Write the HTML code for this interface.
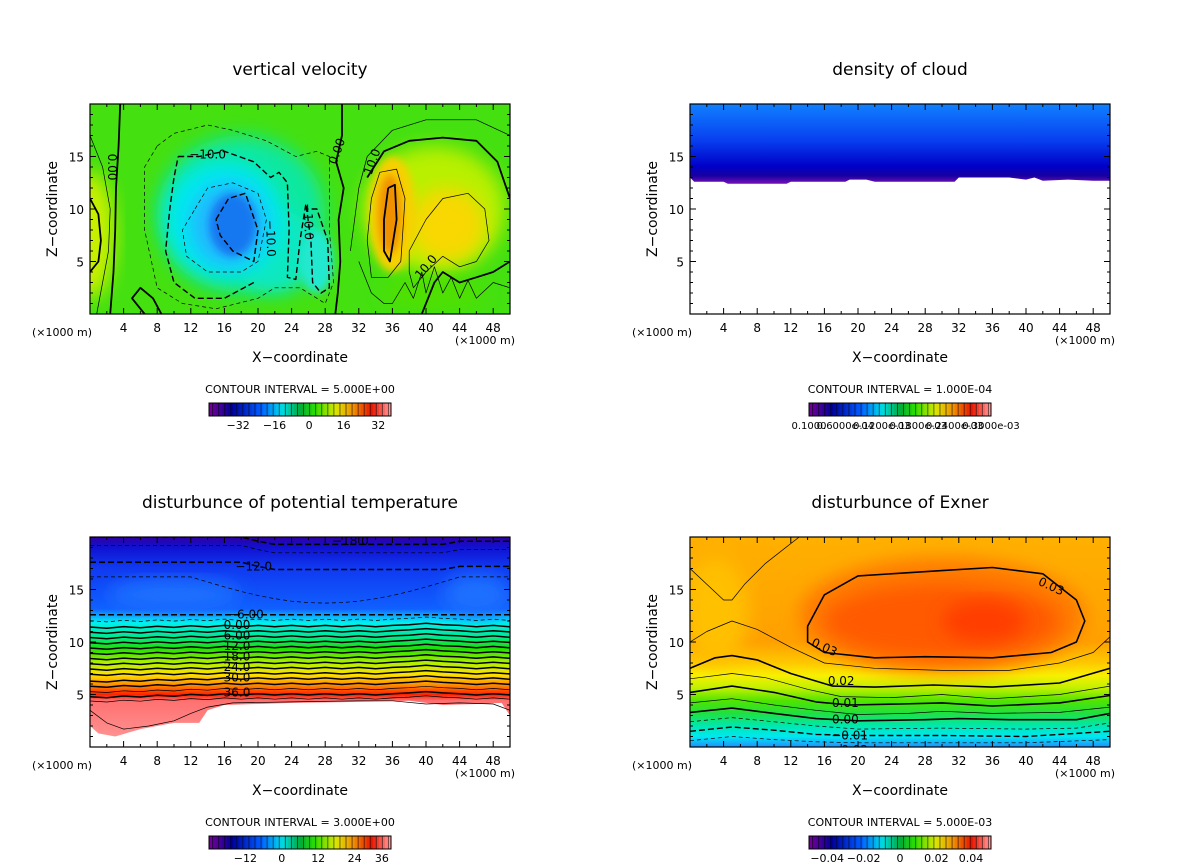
<!DOCTYPE html>
<html><head><meta charset="utf-8">
<style>
html,body{margin:0;padding:0;background:#fff;}
svg{display:block;font-family:"DejaVu Sans","Liberation Sans",sans-serif;}
</style></head>
<body>
<svg id="fig" width="1200" height="868" viewBox="0 0 1200 868" xmlns="http://www.w3.org/2000/svg">
<defs>
<filter id="bl" x="-20%" y="-20%" width="140%" height="140%"><feGaussianBlur stdDeviation="9"/></filter>
<filter id="bl2" x="-20%" y="-20%" width="140%" height="140%"><feGaussianBlur stdDeviation="4"/></filter>
<clipPath id="c1"><rect x="90" y="104" width="420" height="210"/></clipPath>
<clipPath id="c2"><rect x="690" y="104" width="420" height="210"/></clipPath>
<clipPath id="c3"><rect x="90" y="537" width="420" height="210"/></clipPath>
<clipPath id="c4"><rect x="690" y="537" width="420" height="210"/></clipPath>
<linearGradient id="g2" x1="0" y1="0" x2="0" y2="1">
<stop offset="0" stop-color="#1080ff"/><stop offset="0.45" stop-color="#0840f0"/><stop offset="0.78" stop-color="#0000c8"/><stop offset="0.9" stop-color="#1800a0"/><stop offset="1" stop-color="#7a10b8"/>
</linearGradient>
<linearGradient id="g3" x1="0" y1="0" x2="0" y2="1">
<stop offset="0" stop-color="#3000a0"/><stop offset="0.05" stop-color="#1010d0"/><stop offset="0.15" stop-color="#1038f0"/><stop offset="0.36" stop-color="#1060ff"/><stop offset="0.39" stop-color="#10a0ff"/><stop offset="0.43" stop-color="#00f0f0"/><stop offset="0.5" stop-color="#00e890"/><stop offset="0.56" stop-color="#20e000"/><stop offset="0.63" stop-color="#b0f000"/><stop offset="0.69" stop-color="#ffe000"/><stop offset="0.74" stop-color="#ff9000"/><stop offset="0.79" stop-color="#ff2000"/><stop offset="0.82" stop-color="#ff7070"/><stop offset="1" stop-color="#ff9090"/>
</linearGradient>
<linearGradient id="g4" x1="0" y1="0" x2="0" y2="1">
<stop offset="0" stop-color="#ffb000"/><stop offset="0.5" stop-color="#ffa000"/><stop offset="0.6" stop-color="#ffc800"/><stop offset="0.66" stop-color="#f8f000"/><stop offset="0.72" stop-color="#c0f000"/><stop offset="0.78" stop-color="#50e400"/><stop offset="0.84" stop-color="#20e040"/><stop offset="0.9" stop-color="#00e8b0"/><stop offset="0.95" stop-color="#00e8f0"/><stop offset="1" stop-color="#2090ff"/>
</linearGradient>
</defs>
<g id="layer"></g>
</svg>
<script>
var xTicks=[4,8,12,16,20,24,28,32,36,40,44,48];
var yTicks=[5,10,15];
var titles=["vertical velocity","density of cloud","disturbunce of potential temperature","disturbunce of Exner"];
var intervals=["CONTOUR INTERVAL = 5.000E+00","CONTOUR INTERVAL = 1.000E-04","CONTOUR INTERVAL = 3.000E+00","CONTOUR INTERVAL = 5.000E-03"];
var cbLabels=[["−32","−16","0","16","32"],["0.1000","0.6000e-04","0.1200e-03","0.1800e-03","0.2400e-03","0.3000e-03"],["−12","0","12","24","36"],["−0.04","−0.02","0","0.02","0.04"]];
var cbLabelPos=[[0.16,0.36,0.55,0.74,0.93],[0,0.2,0.4,0.6,0.8,1],[0.2,0.4,0.6,0.8,0.95],[0.1,0.3,0.5,0.7,0.89]];
var origins=[[90,104],[690,104],[90,537],[690,537]];
var NS="http://www.w3.org/2000/svg";
var layer=document.getElementById('layer');
function el(t,a,p){var e=document.createElementNS(NS,t);for(var k in a)e.setAttribute(k,a[k]);(p||layer).appendChild(e);return e;}
function txt(s,a,p){var e=el('text',a,p);e.textContent=s;return e;}
var X0,Y0;
function sx(k){return X0+k*8.4;}
function sz(z){return Y0+210-z*10.5;}
function pth(pts,close){var d='';for(var i=0;i<pts.length;i++){d+=(i?'L':'M')+sx(pts[i][0]).toFixed(1)+' '+sz(pts[i][1]).toFixed(1);}return d+(close?'Z':'');}
function ell(k,z,rk,rz,col,g,f){var e=el('ellipse',{cx:sx(k),cy:sz(z),rx:rk*8.4,ry:rz*10.5,fill:col,filter:f||'url(#bl)'},g);return e;}
function line(pts,g,w,dash,name){var e=el('path',{d:pth(pts),fill:'none',stroke:'#000','stroke-width':w,'stroke-dasharray':dash||'none','stroke-linejoin':'round'},g);

return e;}
function lab(s,k,z,g,rot){var t=txt(s,{x:sx(k),y:sz(z)+4,'font-size':12,'text-anchor':'middle',fill:'#000',transform:rot?'rotate('+rot+' '+sx(k)+' '+sz(z)+')':''},g);

}

/* ---------- Panel fields ---------- */
var p1Contours=[
 {pts:[[3.6,20],[3.4,16],[3.1,12],[3,8],[2.8,4],[2.4,0]],w:1.8},
 {pts:[[0,11],[1,9.5],[1.3,7],[1,5],[0,4]],w:1.8},
 {pts:[[0,17],[1.5,14],[2.4,10],[2.2,6],[1.5,3],[0.8,0]],w:0.7},
 {pts:[[30,20],[30,17],[29.3,14.5],[30.2,12],[29.6,9],[29.8,5],[29.5,2],[29.2,0]],w:1.8},
 {pts:[[6.5,0],[5,1.5],[6,2.5],[7.5,1.5],[8.5,0]],w:1.8},
 {pts:[[8,16],[10,17.2],[14,18],[17,17.5],[21,16.5],[24.5,15],[27,15.5],[28.5,15],[28.5,8],[29,3],[28,1],[25,2.5],[22,2.5],[20,1.5],[15,0.5],[11,1],[8,2.5],[6.5,8],[6.5,14],[8,16]],w:0.7,d:'4,3'},
 {pts:[[10.5,15],[13,15],[16,15.5],[19.5,14.5],[21.5,13],[22.5,13.5],[23.5,12.5],[23.7,8],[23.5,3.5],[24.5,3.3],[25,7],[25.7,10.5],[26.3,7],[26.5,3],[27.5,2],[28.5,2.5],[28.3,7],[27,10],[26,10]],w:1.4,d:'6,3'},
 {pts:[[19.5,3],[16,1.5],[12.5,1.5],[10,3],[9,6],[9.5,10],[10,13],[10.5,15]],w:1.4,d:'6,3'},
 {pts:[[12.5,10],[14,12],[17,12.5],[20,11.5],[21,9],[20,5],[18,4],[14,4],[11.5,5.5],[11,8],[12.5,10]],w:0.7,d:'4,3'},
 {pts:[[15,9],[16.5,11],[18.5,11.5],[20,8],[19.5,5],[17,6],[15.5,7.5],[15,9]],w:1.4,d:'6,3'},
 {pts:[[33,13],[35,15.5],[38,16.5],[42,16.8],[46,16.5],[48.5,14.5],[50,11]],w:1.8},
 {pts:[[31,6],[32,12],[33,15],[36,17.5],[40,18.5],[46,18.5],[50,17]],w:0.7},
 {pts:[[50,5],[48,4],[46,3.5],[44,3],[42,4],[41,3],[40,1],[39.5,0]],w:1.8},
 {pts:[[34.5,13.5],[36.5,13.8],[37.5,11],[37,5],[35.5,3.5],[33.5,3.5],[33,7],[33.5,11],[34.5,13.5]],w:0.7},
 {pts:[[35.5,12],[36.3,12.3],[36.5,9],[35.7,5],[35,6],[35,9],[35.5,12]],w:1.8},
 {pts:[[38,6],[40,9],[42,11],[45,11.5],[47,10],[47.5,7],[46,5],[44,4.5],[42,5.5],[40,4],[38.5,2.5],[38,4],[38,6]],w:0.7},
 {pts:[[32,5],[33.5,2],[35,1],[36,1],[37.5,3],[38.5,1.5],[39.5,4],[40,2],[41,4.5],[42,2],[43,3.5],[44,1.5],[45,3.2],[46,1.5],[48,3],[50,2.5]],w:0.7}
];
var p4Contours=[
 {pts:[[0,17],[2,15.5],[4,14],[5,14],[6.5,15.5],[9,17.5],[13,20]],w:0.7},
 {pts:[[0,10],[2,11],[5,12],[8,11.2],[12,9.5],[16,8],[22,7.5],[30,7.3],[38,7.3],[44,8],[48,9],[50,10.5]],w:0.7},
 {pts:[[14,11.5],[16,14.5],[20,16.3],[30,16.8],[36,17.1],[42,16.5],[46,14],[47,12],[46,10],[43,9],[36,8.5],[28,8.6],[22,8.5],[16,9],[14,10],[14,11.5]],w:1.6},
 {pts:[[0,7.5],[3,8.5],[5,8.7],[8,8.3],[12,7],[17,5.8],[22,5.7],[29,5.9],[36,5.7],[44,6.1],[50,7.5]],w:1.6},
 {pts:[[0,6.5],[5,7],[9,6.6],[14,5.5],[18,4.8],[24,4.7],[30,5],[36,4.6],[44,5],[50,5.8]],w:0.7},
 {pts:[[0,5.2],[5,5.8],[10,5.2],[15,4.3],[19,4],[25,4.1],[30,4.2],[36,3.9],[44,4.2],[50,4.9]],w:1.6},
 {pts:[[0,4.2],[5,4.6],[10,4],[15,3.5],[20,3.1],[26,3.2],[30,3.4],[36,3.2],[44,3.3],[50,3.8]],w:0.7},
 {pts:[[0,3.3],[5,3.7],[10,3.2],[15,2.7],[20,2.5],[28,2.6],[32,2.7],[38,2.6],[46,2.6],[50,3.2]],w:1.6},
 {pts:[[0,2.4],[5,2.8],[10,2.4],[15,2],[20,1.7],[30,1.8],[40,1.7],[46,1.8],[50,2.3]],w:0.7,d:'4,3'},
 {pts:[[0,1.5],[5,1.9],[10,1.6],[15,1.2],[20,1.1],[30,1.1],[40,1],[50,1.5]],w:1.4,d:'6,3'},
 {pts:[[0,0.6],[5,1],[10,0.7],[15,0.5],[20,0.4],[30,0.4],[40,0.4],[50,0.7]],w:0.7,d:'4,3'}
];
var p3Levels=[19.6,18.8,17.2,16.2,12.6,12.1,11.5,11.0,10.5,10.0,9.5,9.0,8.5,8.0,7.5,7.0,6.5,6.0,5.5,5.0,4.6];

function drawFields(i,g){
 if(i==0){
  el('rect',{x:X0,y:Y0,width:420,height:210,fill:'#44e010'},g);
  ell(0,7.5,3,6,'#c8f000',g);
  ell(18,9.5,10,7.5,'#10e8a0',g);
  ell(22,6,5,4,'#10e8c0',g);
  ell(16,9,7,5.5,'#00e8f0',g);
  ell(16.5,8.5,4.5,4,'#20b8ff',g);
  ell(17,8.5,2.8,3,'#1878f0',g,'url(#bl2)');
  ell(27,5,2,3,'#20e8d0',g,'url(#bl2)');
  ell(41,10,8.5,6,'#b8f000',g);
  ell(42.5,8.5,4.5,3.5,'#f8d800',g);
  ell(36,9.5,2.8,5.5,'#f8d000',g,'url(#bl2)');
  ell(35.7,9.5,1.4,3.8,'#f09000',g,'url(#bl2)');
  ell(41,2,6,1.5,'#50e000',g);
 } else if(i==1){
  el('rect',{x:X0,y:Y0,width:420,height:210,fill:'#fff'},g);
  el('path',{d:pth([[0,20],[50,20],[50,12.7],[48,12.7],[45,12.8],[42,12.7],[41,13],[40,12.8],[38,13],[32,13],[31.5,12.6],[22,12.6],[21,12.8],[19,12.8],[18.5,12.6],[12,12.6],[11.5,12.4],[4.5,12.4],[4,12.6],[0.5,12.6],[0,13]],true),fill:'url(#g2)'},g);
 } else if(i==2){
  el('rect',{x:X0,y:Y0,width:420,height:210,fill:'#fff'},g);
  el('path',{d:pth([[0,20],[50,20],[50,3],[49,4.2],[46,4.1],[42,4],[40,4.2],[38,4.4],[32,4.3],[24,4.2],[16,4],[14,3.5],[13,2.3],[10,2.3],[6,1.7],[3,1],[1,1.3],[0,2]],true),fill:'url(#g3)'},g);
  ell(10,14.5,8,1.5,'#1a70ff',g);
  ell(46,14.5,4,2,'#1a70ff',g);
 } else {
  el('rect',{x:X0,y:Y0,width:420,height:210,fill:'url(#g4)'},g);
  ell(3,13,4,5,'#ffc000',g);
  ell(30,12.5,17,5.5,'#ff7a00',g);
  ell(30,12,14,3.5,'#ff5a00',g);
  ell(35,12,5,2,'#ff3c00',g);
 }
}

function drawContours(i,g){
 if(i==0){
  p1Contours.forEach(function(c){line(c.pts,g,c.w,c.d);});
  lab('0.00',2.6,14,g,90); lab('0.00',29.4,15.5,g,-70); lab('−10.0',14,15.2,g,0);
  lab('−10.0',21.5,7.2,g,88); lab('−10.0',26,8.8,g,88); lab('10.0',33.6,14.5,g,-70); lab('10.0',40,4.5,g,-50);
 } else if(i==2){
  var labs={18.8:null,17.2:'−12.0',12.6:'−6.00',12.1:null,11.5:'0.00',10.5:'6.00',9.5:'12.0',8.5:'18.0',7.5:'24.0',6.5:'30.0',5.0:'36.0'};
  p3Levels.forEach(function(z,j){
   var pts=[];
   for(var k=0;k<=50;k+=2){var dz=0;
     if(z<12.5){dz=(k<16?-0.3*(1-k/16)*(z<7?1:0.5):0)+((k%4==0)?0.08:-0.05)+(k>36&&k<44?0.2:0);}
     else if(z>16&&z<17){dz=(k>12&&k<44)?-2.5*Math.sin(Math.PI*(k-12)/32):0; }
     else if(z>17){dz=(k<20?0.4:0)-(k>20&&k<44?0.3:0);}
     pts.push([k,z+dz]);}
   var thick=(Math.round(z*10)%10==0||[11.5,10.5,9.5,8.5,7.5,6.5,12.6,17.2,19.6].indexOf(z)>=0);
   var dashed=z>12;
   line(pts,g,thick?1.5:0.7,dashed?(thick?'6,3':'4,3'):null);
  });
  line([[0,3.5],[2,2.3],[4,1.7],[7,2],[10,2.5],[12,3.2],[14,3.8],[17,4.2],[24,4.3],[32,4.4],[36,4.4],[40,4.1],[44,4.2],[48,4.1],[50,3.5]],g,0.7);
  var lz=[[19.6,'−18.0',31],[17.2,'−12.0',19.5],[12.6,'−6.00',18.5],[11.6,'0.00',17.5],[10.6,'6.00',17.5],[9.6,'12.0',17.5],[8.6,'18.0',17.5],[7.6,'24.0',17.5],[6.6,'30.0',17.5],[5.2,'36.0',17.5]];
  lz.forEach(function(a){var r=el('rect',{x:sx(a[2])-17,y:sz(a[0])-7,width:34,height:13,fill:'none'},g);lab(a[1],a[2],a[0],g,0);});
 } else if(i==3){
  p4Contours.forEach(function(c){line(c.pts,g,c.w,c.d);});
  lab('0.03',16,9.5,g,25); lab('0.03',43,15.3,g,25); lab('0.02',18,6.3,g,0); lab('0.01',18.5,4.2,g,0);
  lab('0.00',18.5,2.6,g,0); lab('−0.01',19,1.1,g,0); lab('−0.02',19,-0.3,g,0);
 }
}

function palette(t){
 var stops=[[0,[110,0,150]],[0.12,[0,0,150]],[0.28,[0,90,255]],[0.4,[0,220,230]],[0.5,[0,170,60]],[0.58,[40,220,0]],[0.7,[220,230,0]],[0.8,[240,140,0]],[0.9,[230,20,0]],[1,[255,150,150]]];
 for(var i=1;i<stops.length;i++){if(t<=stops[i][0]){var a=stops[i-1],b=stops[i],f=(t-a[0])/(b[0]-a[0]);
  return 'rgb('+[0,1,2].map(function(j){return Math.round(a[1][j]+(b[1][j]-a[1][j])*f);}).join(',')+')';}}
 return 'rgb(255,150,150)';
}

origins.forEach(function(o,i){
 X0=o[0];Y0=o[1];
 var g=el('g',{});
 
 
 var cx=X0+210;
 var t=txt(titles[i],{x:cx,y:Y0-29,'font-size':17,'text-anchor':'middle',fill:'#000'},g);
 
 
 var fg=el('g',{'clip-path':'url(#c'+(i+1)+')'},g);
 
 
 drawFields(i,fg);
 drawContours(i,fg);
 var fr=el('rect',{x:X0,y:Y0,width:420,height:210,fill:'none',stroke:'#000','stroke-width':1.2},g);
 
 
 // x ticks
 for(var k=2;k<50;k+=2){var L=(k%4==0)?6:3;
  el('line',{x1:sx(k),x2:sx(k),y1:Y0+210,y2:Y0+210-L,stroke:'#000','stroke-width':1},g);
  el('line',{x1:sx(k),x2:sx(k),y1:Y0,y2:Y0+L,stroke:'#000','stroke-width':1},g);}
 for(var z=1;z<20;z++){var L=(z%5==0)?6:3;
  el('line',{x1:X0,x2:X0+L,y1:sz(z),y2:sz(z),stroke:'#000','stroke-width':1},g);
  el('line',{x1:X0+420,x2:X0+420-L,y1:sz(z),y2:sz(z),stroke:'#000','stroke-width':1},g);}
 xTicks.forEach(function(v){var tl=txt(String(v),{x:sx(v),y:Y0+228,'font-size':12,'text-anchor':'middle'},g);
  
  });
 yTicks.forEach(function(v){var tl=txt(String(v),{x:X0-6,y:sz(v)+5,'font-size':12,'text-anchor':'end'},g);
  
  });
 var u1=txt('(×1000 m)',{x:X0-58,y:Y0+232,'font-size':11},g);
 
 
 var u2=txt('(×1000 m)',{x:X0+365,y:Y0+240,'font-size':11},g);
 
 
 var xt=txt('X−coordinate',{x:cx,y:Y0+258,'font-size':14,'text-anchor':'middle'},g);
 
 
 var yt=txt('Z−coordinate',{x:X0-33,y:Y0+105,'font-size':14,'text-anchor':'middle',transform:'rotate(-90 '+(X0-33)+' '+(Y0+105)+')'},g);
 
 
 var ci=txt(intervals[i],{x:cx,y:Y0+289,'font-size':11,'text-anchor':'middle'},g);
 
 
 // colorbar
 var cb=el('g',{},g);
 
 
 var bx=X0+119,by=Y0+299,bw=182,bh=13,n=60;
 for(var s=0;s<n;s++){
  el('rect',{x:bx+s*bw/n,y:by,width:bw/n+0.3,height:bh,fill:palette(s/(n-1))},cb);
  if(s%2==1)el('rect',{x:bx+s*bw/n,y:by,width:1,height:bh,fill:'rgba(0,0,0,0.55)'},cb);
 }
 el('rect',{x:bx,y:by,width:bw,height:bh,fill:'none',stroke:'#000','stroke-width':1},cb);
 cbLabels[i].forEach(function(s,j){var tl=txt(s,{x:bx+cbLabelPos[i][j]*bw,y:by+26,'font-size':i==1?10:11,'text-anchor':'middle'},cb);
  
  });
});
</script>
</body></html>
